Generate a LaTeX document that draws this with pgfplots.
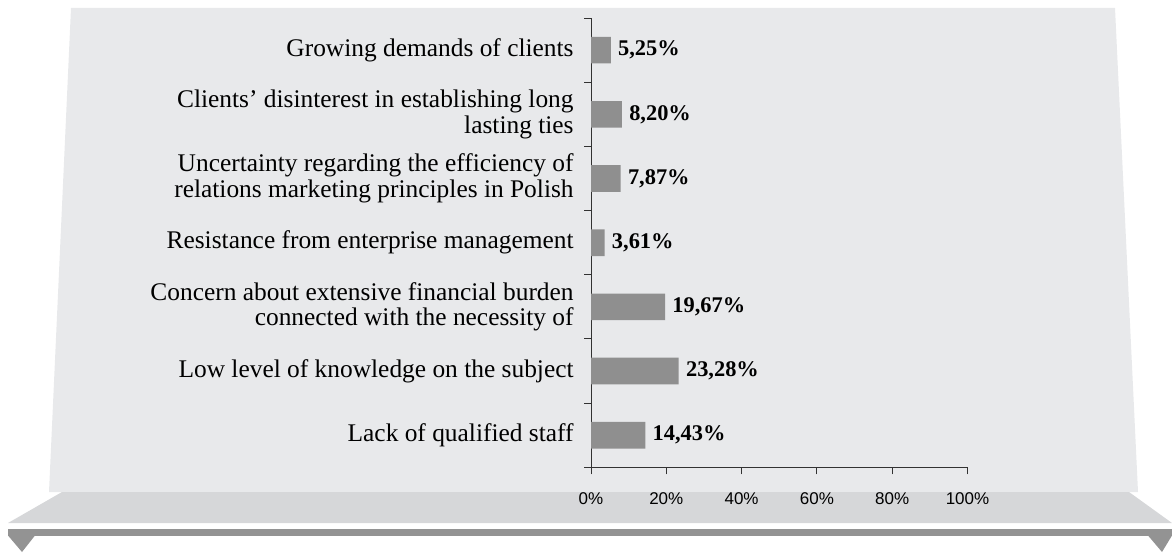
\documentclass[border=0pt]{standalone}
\usepackage{pgfplots}
\pgfplotsset{compat=1.18}
\usepackage{fontspec}
\setmainfont{Liberation Serif}
\newfontfamily\sansf{Liberation Sans}
\definecolor{wall}{RGB}{232,233,235}
\definecolor{floorc}{RGB}{214,215,217}
\definecolor{strip}{RGB}{147,147,147}
\definecolor{barc}{RGB}{143,143,143}
\definecolor{axc}{RGB}{50,50,50}
\begin{document}
\begin{tikzpicture}
\useasboundingbox (0,0) rectangle (586pt,276pt);
\begin{scope}[x=0.5pt,y=-0.5pt,shift={(0pt,276pt)}]
  \fill[wall] (71,8) -- (1115,8) -- (1138,492) -- (49,492) -- cycle;
  \fill[floorc] (62,492) -- (1129,492) -- (1172,523) -- (8,523) -- cycle;
  \fill[strip] (8,529) rectangle (1172,536);
  \fill[strip] (8,535.5) -- (35,535.5) -- (22,552) -- cycle;
  \fill[strip] (1148,535.5) -- (1172,535.5) -- (1162,552) -- cycle;
\end{scope}
\begin{axis}[
  at={(295.5pt,42.35pt)}, anchor=south west,
  scale only axis, width=188.25pt, height=224.6pt,
  xbar, bar width=13.3pt,
  axis x line*=bottom, axis y line*=left,
  axis line style={axc, line width=0.5pt},
  xmin=0, xmax=100, ymin=0.5, ymax=7.5,
  xtick={0,20,40,60,80,100},
  xticklabel={\pgfmathprintnumber{\tick}\%},
  /pgf/number format/assume math mode=true,
  xticklabel style={font=\sansf\fontsize{8.5}{10}\selectfont, inner sep=0pt, yshift=-9pt},
  ytick={1,2,3,4,5,6,7},
  yticklabels={
    Lack of qualified staff,
    Low level of knowledge on the subject,
    {Concern about extensive financial burden\\connected with the necessity of},
    Resistance from enterprise management,
    {Uncertainty regarding the efficiency of\\relations marketing principles in Polish},
    {Clients’ disinterest in establishing long\\lasting ties},
    Growing demands of clients},
  yticklabel style={font=\fontsize{12.7}{12.9}\selectfont, align=right, inner sep=0pt, xshift=-5pt},
  minor ytick={0.5,1.5,2.5,3.5,4.5,5.5,6.5,7.5},
  tick align=outside,
  major tick length=3.5pt, minor tick length=3.5pt,
  major y tick style={draw=none},
  minor y tick style={draw=axc, line width=0.5pt},
  xtick style={axc, line width=0.5pt},
  nodes near coords={\pgfmathprintnumber[fixed,zerofill,precision=2,use comma]{\pgfplotspointmeta}\%},
  nodes near coords style={font=\bfseries\fontsize{11.2}{12}\selectfont, anchor=west, inner sep=0pt, xshift=3.5pt, text=black},
  clip=false,
]
\addplot[fill=barc, draw=none] coordinates {
  (14.43,1) (23.28,2) (19.67,3) (3.61,4) (7.87,5) (8.20,6) (5.25,7)
};
\end{axis}
\end{tikzpicture}
\end{document}
